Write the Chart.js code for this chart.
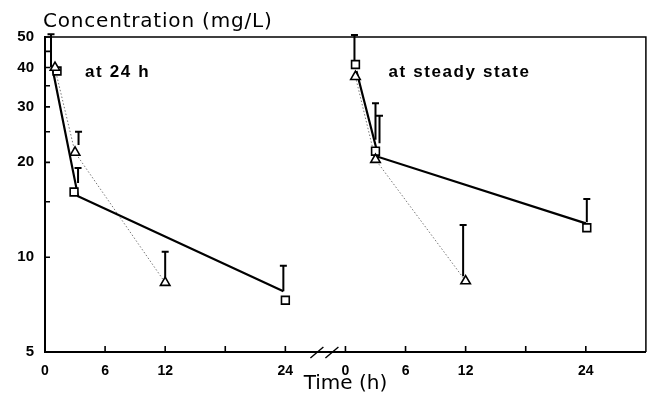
<!DOCTYPE html>
<html><head><meta charset="utf-8">
<script src="https://cdn.jsdelivr.net/npm/chart.js@4"></script>
<style>html,body{margin:0;padding:0;background:#fff}#wrap{width:653px;height:396px;position:relative}</style>
</head><body><div id="wrap"><canvas id="c"></canvas></div>
<script>
// ---- data (hours, mg/L) ----
const PANEL_OFFSET = 30;              // second panel starts 30 h further along the shared axis
const panelTitles = ["at 24 h", "at steady state"];
const panelTitleHours = [4, 4.3];
const panelTickHours = [0, 6, 12, 18, 24];
const panelLabelHours = [0, 6, 12, 24];
const yTickVals = [5, 10, 15, 20, 25, 30, 35, 40, 45, 50];
const yLabelVals = [5, 10, 20, 30, 40, 50];

// panel 1 : at 24 h
const p1TriT = [1, 3, 12];
const p1TriC = [40, 21.5, 8.3];
const p1SqT = [1.2, 2.9, 24];
const p1SqC = [39, 16.1, 7.3];
const p1SolidT = [0.8, 3.3, 23.8];
const p1SolidC = [39, 15.6, 7.8];
const p1DotT = [1.1, 3, 12];
const p1DotC = [38.5, 21.5, 8.3];
const p1ErrT = [0.6, 3.35, 3.3, 12, 23.8];
const p1ErrLo = [40, 22.7, 17.2, 8.6, 7.8];
const p1ErrHi = [51, 25.0, 19.2, 10.4, 9.4];

// panel 2 : at steady state
const p2TriT = [1, 3, 12];
const p2TriC = [37.4, 20.4, 8.4];
const p2SqT = [1, 3, 24.1];
const p2SqC = [40.9, 21.7, 12.4];
const p2SolidT = [1.1, 3.3, 24];
const p2SolidC = [39, 20.8, 12.8];
const p2DotT = [1, 3, 12];
const p2DotC = [37.4, 20.4, 8.4];
const p2ErrT = [0.9, 3.0, 3.4, 11.75, 24.1];
const p2ErrLo = [42, 23.6, 23.0, 8.7, 12.9];
const p2ErrHi = [50.7, 30.8, 28.1, 12.65, 15.3];

// ---- helpers ----
const pts = (ts, cs, off) => ts.map((t, i) => ({x: t + off, y: cs[i]}));
const errs = (ts, lo, hi, off) => ts.map((t, i) => ({x: t + off, lo: lo[i], hi: hi[i]}));
const allErrs = errs(p1ErrT, p1ErrLo, p1ErrHi, 0).concat(errs(p2ErrT, p2ErrLo, p2ErrHi, PANEL_OFFSET));
const xTicks = [];
const xLabels = {};
[0, PANEL_OFFSET].forEach(off => {
  panelTickHours.forEach(h => xTicks.push(h + off));
  panelLabelHours.forEach(h => { xLabels[h + off] = String(h); });
});

const markerBase = {showLine: false, borderColor: '#000', backgroundColor: '#fff', borderWidth: 1.6, pointRadius: 5.5, clip: false};
const datasets = [
  Object.assign({label: 'tri1', data: pts(p1TriT, p1TriC, 0), pointStyle: 'triangle'}, markerBase),
  Object.assign({label: 'sq1', data: pts(p1SqT, p1SqC, 0), pointStyle: 'rect'}, markerBase),
  Object.assign({label: 'tri2', data: pts(p2TriT, p2TriC, PANEL_OFFSET), pointStyle: 'triangle'}, markerBase),
  Object.assign({label: 'sq2', data: pts(p2SqT, p2SqC, PANEL_OFFSET), pointStyle: 'rect'}, markerBase),
  {label: 'solid1', data: pts(p1SolidT, p1SolidC, 0), showLine: true, borderColor: '#000', borderWidth: 2.2, pointRadius: 0, tension: 0},
  {label: 'solid2', data: pts(p2SolidT, p2SolidC, PANEL_OFFSET), showLine: true, borderColor: '#000', borderWidth: 2.2, pointRadius: 0, tension: 0},
  {label: 'dot1', data: pts(p1DotT, p1DotC, 0), showLine: true, borderColor: '#777', borderWidth: 1, borderDash: [1.5, 2], pointRadius: 0, tension: 0},
  {label: 'dot2', data: pts(p2DotT, p2DotC, PANEL_OFFSET), showLine: true, borderColor: '#777', borderWidth: 1, borderDash: [1.5, 2], pointRadius: 0, tension: 0}
];

const errorBars = {
  id: 'errorBars',
  beforeDatasetsDraw(chart) {
    const {ctx, scales: {x, y}} = chart;
    ctx.save();
    ctx.strokeStyle = '#000';
    ctx.lineWidth = 2;
    allErrs.forEach(e => {
      const px = x.getPixelForValue(e.x);
      const yl = y.getPixelForValue(e.lo), yh = y.getPixelForValue(e.hi);
      ctx.beginPath();
      ctx.moveTo(px, yl); ctx.lineTo(px, yh);
      ctx.moveTo(px - 3.5, yh); ctx.lineTo(px + 3.5, yh);
      ctx.stroke();
    });
    ctx.restore();
  }
};

const frame = {
  id: 'frame',
  afterDraw(chart) {
    const {ctx, chartArea: a, scales: {x, y}} = chart;
    ctx.save();
    ctx.strokeStyle = '#000';
    ctx.lineWidth = 1.5;
    ctx.beginPath();
    ctx.moveTo(a.left, a.top); ctx.lineTo(a.right, a.top); ctx.lineTo(a.right, a.bottom);
    ctx.stroke();
    ctx.lineWidth = 1.6;
    ctx.beginPath();
    yTickVals.forEach(v => { const py = y.getPixelForValue(v); ctx.moveTo(a.left, py); ctx.lineTo(a.left + 5, py); });
    xTicks.forEach(v => { if (v === 0) return; const px = x.getPixelForValue(v); ctx.moveTo(px, a.bottom); ctx.lineTo(px, a.bottom - 6); });
    ctx.stroke();
    ctx.lineWidth = 1.4;
    ctx.beginPath();
    [27.1, 28.6].forEach(v => {
      const px = x.getPixelForValue(v);
      ctx.moveTo(px - 6, a.bottom + 6); ctx.lineTo(px + 7, a.bottom - 5);
    });
    ctx.stroke();
    ctx.fillStyle = '#000';
    ctx.font = 'bold 17px "Liberation Sans", Arial, sans-serif';
    ctx.textBaseline = 'alphabetic';
    ctx.letterSpacing = '1.6px';
    panelTitles.forEach((t, i) => {
      ctx.fillText(t, x.getPixelForValue(panelTitleHours[i] + i * PANEL_OFFSET), y.getPixelForValue(37.3));
    });
    ctx.font = '20px "DejaVu Sans", sans-serif';
    ctx.letterSpacing = '0.8px';
    ctx.fillText('Concentration (mg/L)', 43, 27);
    ctx.restore();
  }
};

new Chart(document.getElementById('c'), {
  type: 'scatter',
  data: {datasets},
  options: {
    responsive: true, maintainAspectRatio: false, animation: false,
    layout: {padding: {top: 37, right: 2, left: 0, bottom: 0}},
    plugins: {legend: {display: false}, tooltip: {enabled: false}, title: {display: false}},
    scales: {
      x: {
        type: 'linear', min: 0, max: 60,
        afterBuildTicks: s => { s.ticks = xTicks.map(v => ({value: v})); },
        afterFit: s => { s.height = 44; },
        grid: {display: false, drawTicks: false},
        border: {display: true, color: '#000', width: 2},
        ticks: {autoSkip: false, maxRotation: 0, padding: 11, color: '#000',
          font: {family: '"Liberation Sans", Arial, sans-serif', size: 14, weight: 'bold'},
          callback: v => (v in xLabels ? xLabels[v] : '')},
        title: {display: true, text: 'Time (h)', color: '#000', padding: {top: 0, bottom: 0},
          font: {family: '"DejaVu Sans", sans-serif', size: 20}}
      },
      y: {
        type: 'logarithmic', min: 5, max: 50,
        afterBuildTicks: s => { s.ticks = yTickVals.map(v => ({value: v})); },
        afterFit: s => { s.width = 45; },
        grid: {display: false, drawTicks: false},
        border: {display: true, color: '#000', width: 2},
        ticks: {autoSkip: false, padding: 11, color: '#000',
          font: {family: '"Liberation Sans", Arial, sans-serif', size: 15, weight: 'bold'},
          callback: v => (yLabelVals.includes(v) ? String(v) : '')}
      }
    }
  },
  plugins: [errorBars, frame]
});
</script>
</body></html>
